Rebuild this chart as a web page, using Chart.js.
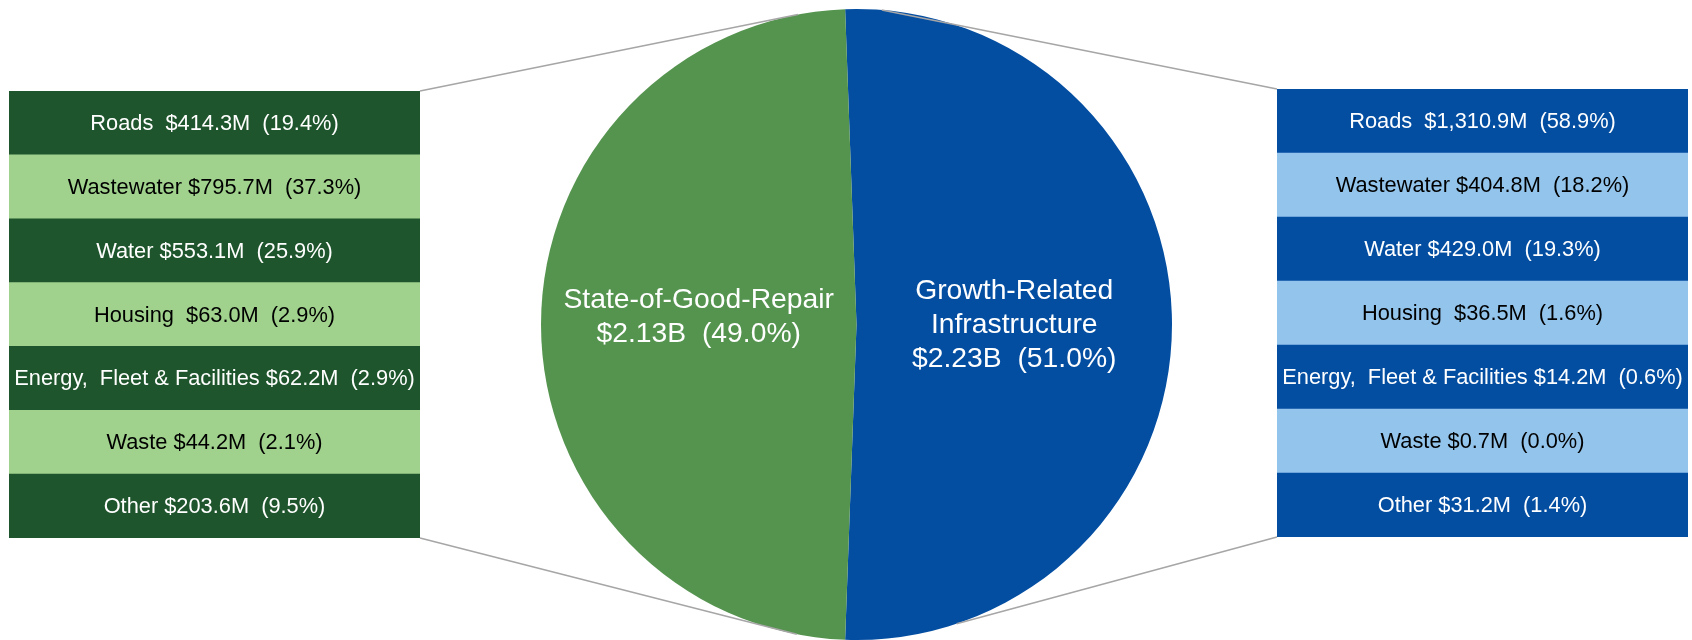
<!DOCTYPE html>
<html>
<head>
<meta charset="utf-8">
<script src="https://cdn.jsdelivr.net/npm/chart.js@4.4.1/dist/chart.umd.min.js"></script>
<style>
  body { margin: 0; background: #fff; }
  #wrap { position: relative; width: 1692px; height: 640px; }
  #wrap canvas { position: absolute; }
</style>
</head>
<body>
<div id="wrap">
  <canvas id="pie" width="1692" height="640" style="left:0;top:0"></canvas>
  <canvas id="leftTable"></canvas>
  <canvas id="rightTable"></canvas>
</div>
<script>
// ---- data ----
const PIE_LABELS = ["Growth-Related Infrastructure", "State-of-Good-Repair"];
const PIE_VALUES = [2.23, 2.13];      // $B
const PIE_PCT = [51.0, 49.0];

const CATEGORIES = ["Roads", "Wastewater", "Water", "Housing", "Energy,  Fleet & Facilities", "Waste", "Other"];
const REPAIR_VALUES = [414.3, 795.7, 553.1, 63.0, 62.2, 44.2, 203.6];   // $M
const REPAIR_PCT = [19.4, 37.3, 25.9, 2.9, 2.9, 2.1, 9.5];
const GROWTH_VALUES = [1310.9, 404.8, 429.0, 36.5, 14.2, 0.7, 31.2];    // $M
const GROWTH_PCT = [58.9, 18.2, 19.3, 1.6, 0.6, 0.0, 1.4];

// ---- layout / style ----
const FONT = '"Liberation Sans", Arial, sans-serif';
const PIE_COLORS = ["#044ea2", "#55944f"];
const GREEN_ROWS = ["#1f552c", "#a0d28d"];
const BLUE_ROWS = ["#044ea2", "#93c4eb"];
const LEFT_BOX = { x: 9, y: 91, w: 411, h: 447 };
const RIGHT_BOX = { x: 1277, y: 89, w: 411, h: 448 };
const WIDE_GAP = ["Roads", "Housing"];

function fmt(v) {
  return v.toLocaleString("en-US", { minimumFractionDigits: 1, maximumFractionDigits: 1 });
}

function wrap(ctx, text, maxW) {
  let words = text.split(" ");
  let lines = [];
  let cur = "";
  words.forEach((w) => {
    let t = cur ? cur + " " + w : w;
    if (cur && ctx.measureText(t).width > maxW) {
      lines.push(cur);
      cur = w;
    } else {
      cur = t;
    }
  });
  lines.push(cur);
  return lines;
}

// connectors from the table corners to the pie rim
const connectors = {
  id: "connectors",
  afterDraw(chart) {
    let arc = chart.getDatasetMeta(0).data[0];
    let cx = arc.x, cy = arc.y, r = arc.outerRadius;
    let rad = (d) => d * Math.PI / 180;
    let segs = [
      [LEFT_BOX.x + LEFT_BOX.w, LEFT_BOX.y, -100.7],
      [LEFT_BOX.x + LEFT_BOX.w, LEFT_BOX.y + LEFT_BOX.h, 100.9],
      [RIGHT_BOX.x, RIGHT_BOX.y, -85.4],
      [RIGHT_BOX.x, RIGHT_BOX.y + RIGHT_BOX.h, 71.5]
    ];
    let ctx = chart.ctx;
    ctx.save();
    ctx.strokeStyle = "#a6a6a6";
    ctx.lineWidth = 1.5;
    segs.forEach(([x, y, a]) => {
      ctx.beginPath();
      ctx.moveTo(x, y);
      ctx.lineTo(cx + r * Math.cos(rad(a)), cy + r * Math.sin(rad(a)));
      ctx.stroke();
    });
    ctx.restore();
  }
};

const pieLabels = {
  id: "pieLabels",
  afterDatasetsDraw(chart) {
    let ctx = chart.ctx;
    let dy = [1, -7];
    ctx.save();
    ctx.font = "28.3px " + FONT;
    ctx.fillStyle = "#ffffff";
    ctx.textAlign = "center";
    ctx.textBaseline = "middle";
    chart.getDatasetMeta(0).data.forEach((arc, i) => {
      let p = arc.tooltipPosition();
      let lines = wrap(ctx, PIE_LABELS[i], 290);
      lines.push("$" + PIE_VALUES[i].toFixed(2) + "B  (" + PIE_PCT[i].toFixed(1) + "%)");
      let lh = 34;
      lines.forEach((t, k) => {
        ctx.fillText(t, p.x, p.y + dy[i] + (k - (lines.length - 1) / 2) * lh);
      });
    });
    ctx.restore();
  }
};

let total = PIE_VALUES[0] + PIE_VALUES[1];

new Chart("pie", {
  type: "pie",
  data: {
    labels: PIE_LABELS,
    datasets: [{
      data: PIE_VALUES,
      backgroundColor: PIE_COLORS,
      borderWidth: 0,
      hoverOffset: 0
    }]
  },
  options: {
    responsive: false,
    animation: false,
    // centre the split on the vertical axis
    rotation: -(PIE_VALUES[0] / total * 360 - 180) / 2,
    layout: { padding: { left: 541, right: 520, top: 9, bottom: 0 } },
    plugins: { legend: { display: false }, tooltip: { enabled: false } },
    events: []
  },
  plugins: [connectors, pieLabels]
});

// ---- the two breakdown tables ----
function makeTable(id, box, values, pct, colors) {
  let cv = document.getElementById(id);
  cv.width = box.w;
  cv.height = box.h;
  cv.style.left = box.x + "px";
  cv.style.top = box.y + "px";

  let rowText = {
    id: "rowText",
    afterDatasetsDraw(chart) {
      let ctx = chart.ctx;
      ctx.save();
      ctx.font = "21.8px " + FONT;
      ctx.textAlign = "center";
      ctx.textBaseline = "middle";
      chart.getDatasetMeta(0).data.forEach((bar, i) => {
        let gap = WIDE_GAP.includes(CATEGORIES[i]) ? "  " : " ";
        let t = CATEGORIES[i] + gap + "$" + fmt(values[i]) + "M  (" + pct[i].toFixed(1) + "%)";
        ctx.fillStyle = i % 2 ? "#000000" : "#ffffff";
        ctx.fillText(t, (bar.x + bar.base) / 2, bar.y + 1);
      });
      ctx.restore();
    }
  };

  new Chart(id, {
    type: "bar",
    data: {
      labels: CATEGORIES,
      datasets: [{
        // every row fills the panel width; the amounts are shown as text
        data: CATEGORIES.map(() => 1),
        backgroundColor: CATEGORIES.map((c, i) => colors[i % 2]),
        borderWidth: 0,
        barPercentage: 1,
        categoryPercentage: 1
      }]
    },
    options: {
      indexAxis: "y",
      responsive: false,
      animation: false,
      layout: { padding: 0 },
      scales: {
        x: { display: false, min: 0, max: 1 },
        y: { display: false }
      },
      plugins: { legend: { display: false }, tooltip: { enabled: false } },
      events: []
    },
    plugins: [rowText]
  });
}

makeTable("leftTable", LEFT_BOX, REPAIR_VALUES, REPAIR_PCT, GREEN_ROWS);
makeTable("rightTable", RIGHT_BOX, GROWTH_VALUES, GROWTH_PCT, BLUE_ROWS);
</script>
</body>
</html>
